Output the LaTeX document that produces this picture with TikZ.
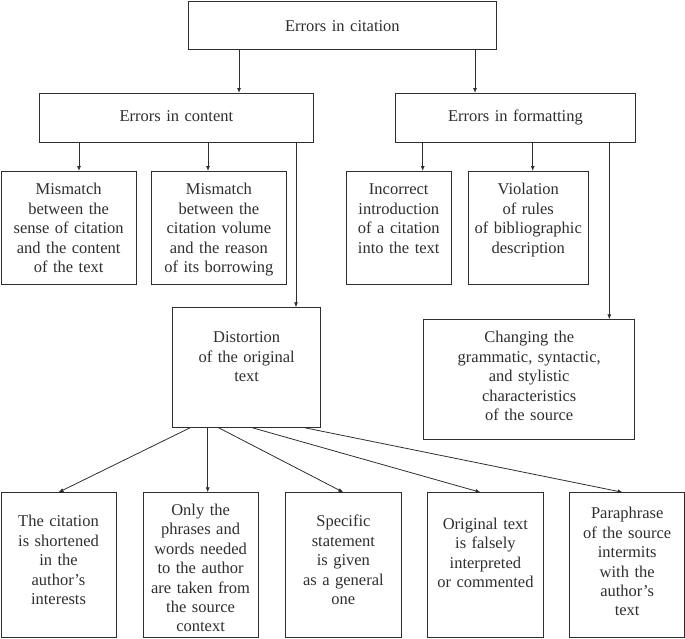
\documentclass[tikz,border=0pt]{standalone}
\usepackage{fontspec}
\setmainfont{Liberation Serif}
\usepackage{tikz}
\usetikzlibrary{arrows.meta}
\definecolor{ink}{gray}{0.18}
\tikzset{
  box/.style={draw=ink, text=ink, line width=0.8pt, inner sep=0pt,
    align=center, anchor=north west,
    font=\fontsize{16.5}{19.45}\selectfont},
  dims/.style n args={3}{text width=#1pt, text height=#2pt, text depth=#3pt},
  arr/.style={draw=ink, line width=0.8pt, -{Latex[length=5pt,width=4pt]}}
}
\begin{document}
\begin{tikzpicture}[x=1pt,y=-1pt]
  \useasboundingbox (0,0) rectangle (685,638);

  % top levels
  \node[box, dims={308}{30.5}{17.5}] (top) at (188,0.5) {Errors in citation};
  \node[box, dims={274}{28.5}{20.5}] (cont) at (39,93) {Errors in content};
  \node[box, dims={240}{28.5}{20.5}] (form) at (395,93) {Errors in formatting};

  % second row
  \node[box, dims={135.5}{23.5}{89.5}] (mis1) at (0.5,171)
    {Mismatch\\ between the\\ sense of citation\\ and the content\\ of the text};
  \node[box, dims={135}{23.5}{89.5}] (mis2) at (151,171)
    {Mismatch\\ between the\\ citation volume\\ and the reason\\ of its borrowing};
  \node[box, dims={104.7}{23.5}{89.5}] (inc) at (346,171)
    {Incorrect\\ introduction\\ of a citation\\ into the text};
  \node[box, dims={120.3}{23.5}{89.5}] (vio) at (467.7,171)
    {Violation\\ of rules\\ of bibliographic\\ description};

  \node[box, dims={148}{35}{84.7}] (dist) at (172.3,307.3)
    {Distortion\\ of the original\\ text};
  \node[box, dims={211}{23}{96.7}] (chg) at (423.3,319.3)
    {Changing the\\ grammatic, syntactic,\\ and stylistic\\ characteristics\\ of the source};

  % bottom row
  \node[box, dims={115.2}{34}{111}] (b1) at (0.5,492.3)
    {The citation\\ is shortened\\ in the\\ author’s\\ interests};
  \node[box, dims={115}{22.5}{122.5}] (b2) at (142.7,492.3)
    {Only the\\ phrases and\\ words needed\\ to the author\\ are taken from\\ the source\\ context};
  \node[box, dims={115.4}{34}{111}] (b3) at (285.3,492.3)
    {Specific\\ statement\\ is given\\ as a general\\ one};
  \node[box, dims={115.4}{36.5}{108.5}] (b4) at (427.3,492.3)
    {Original text\\ is falsely\\ interpreted\\ or commented};
  \node[box, dims={115}{26}{119}] (b5) at (569.3,492.3)
    {Paraphrase\\ of the source\\ intermits\\ with the\\ author’s\\ text};

  \draw[arr] (top.south -| 239,0) -- (cont.north -| 239,0);
  \draw[arr] (top.south -| 475,0) -- (form.north -| 475,0);

  \draw[arr] (cont.south -| 79,0) -- (mis1.north -| 79,0);
  \draw[arr] (cont.south -| 208,0) -- (mis2.north -| 208,0);
  \draw[arr] (cont.south -| 296,0) -- (dist.north -| 296,0);

  \draw[arr] (form.south -| 422.7,0) -- (inc.north -| 422.7,0);
  \draw[arr] (form.south -| 532.7,0) -- (vio.north -| 532.7,0);
  \draw[arr] (form.south -| 609.3,0) -- (chg.north -| 609.3,0);

  \draw[arr] (dist.south -| 190,0) -- (b1.north);
  \draw[arr] (dist.south -| 207.7,0) -- (b2.north -| 207.7,0);
  \draw[arr] (dist.south -| 218.7,0) -- (b3.north);
  \draw[arr] (dist.south -| 252.5,0) -- (b4.north -| 480.5,0);
  \draw[arr] (dist.south -| 305,0) -- (b5.north -| 622.7,0);
\end{tikzpicture}
\end{document}
